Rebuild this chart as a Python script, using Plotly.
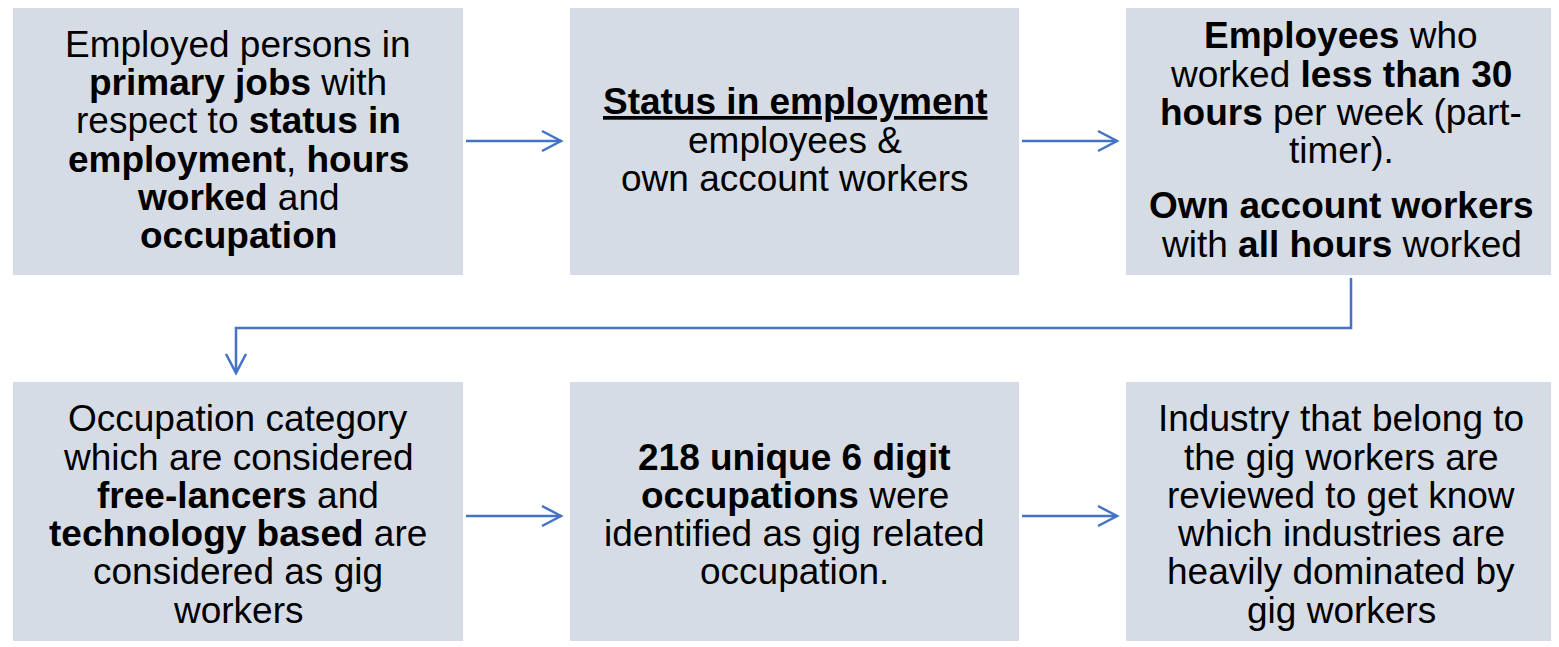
import plotly.graph_objects as go

# box texts, one list of lines per box (rows left to right)
box1_lines = ["Employed persons in", "<b>primary jobs</b> with", "respect to <b>status in</b>",
              "<b>employment</b>, <b>hours</b>", "<b>worked</b> and", "<b>occupation</b>"]
box2_lines = ["<b><u>Status in employment</u></b>", "employees &amp;", "own account workers"]
box3_lines = ["<b>Employees</b> who", "worked <b>less than 30</b>", "<b>hours</b> per week (part-",
              "timer)."]
box3_extra = ["<b>Own account workers</b>", "with <b>all hours</b> worked"]
box4_lines = ["Occupation category", "which are considered", "<b>free-lancers</b> and",
              "<b>technology based</b> are", "considered as gig", "workers"]
box5_lines = ["<b>218 unique 6 digit</b>", "<b>occupations</b> were", "identified as gig related",
              "occupation."]
box6_lines = ["Industry that belong to", "the gig workers are", "reviewed to get know",
              "which industries are", "heavily dominated by", "gig workers"]

BOX_FILL = "#D6DCE5"
ARROW = "#4472C4"
FONT = dict(family="Liberation Sans, Arial, sans-serif", size=37, color="black")
LINE_H = 38.3
PARA_GAP = 17

cols = [(13, 463), (570, 1019), (1126, 1556)]
rows = [(7, 275), (382, 641)]
row_shift = [-1, 3]

fig = go.Figure()
shapes = []
annotations = []

for (y0, y1) in rows:
    for (x0, x1) in cols:
        shapes.append(dict(type="rect", x0=x0, x1=x1, y0=y0, y1=y1,
                           fillcolor=BOX_FILL, line=dict(width=0), layer="below"))

def text_block(paragraphs, col, row):
    x = (cols[col][0] + cols[col][1]) / 2
    cy = (rows[row][0] + rows[row][1]) / 2 + row_shift[row]
    n = sum(len(p) for p in paragraphs)
    total = (n - 1) * LINE_H + (len(paragraphs) - 1) * PARA_GAP
    y = cy - total / 2
    for p in paragraphs:
        for ln in p:
            annotations.append(dict(text=ln, x=x, y=y, xref="x", yref="y",
                                    showarrow=False, font=FONT, align="center",
                                    xanchor="center", yanchor="middle"))
            y += LINE_H
        y += PARA_GAP

text_block([box1_lines], 0, 0)
text_block([box2_lines], 1, 0)
text_block([box3_lines, box3_extra], 2, 0)
text_block([box4_lines], 0, 1)
text_block([box5_lines], 1, 1)
text_block([box6_lines], 2, 1)

def line(path):
    shapes.append(dict(type="path", path=path, line=dict(color=ARROW, width=2.5)))

def right_arrow(x0, x1, y):
    line(f"M {x0},{y} L {x1},{y}")
    line(f"M {x1-19},{y-10} L {x1},{y} L {x1-19},{y+10}")

right_arrow(466, 561, 141)
right_arrow(1022, 1117, 141)
right_arrow(466, 561, 516)
right_arrow(1022, 1117, 516)

# connector from top-right box down to bottom-left box
line("M 1351,278 L 1351,328 L 236,328 L 236,372")
line("M 226,354 L 236,373 L 246,354")

# page body has an 8px margin, so shift the frame to keep marks in place
fig.update_layout(
    width=1551, height=639,
    margin=dict(l=0, r=0, t=0, b=0),
    plot_bgcolor="white", paper_bgcolor="white",
    shapes=shapes, annotations=annotations,
    showlegend=False,
)
fig.update_xaxes(range=[8, 1559], visible=False, fixedrange=True)
fig.update_yaxes(range=[647, 8], visible=False, fixedrange=True)

fig.write_html("out.html")
